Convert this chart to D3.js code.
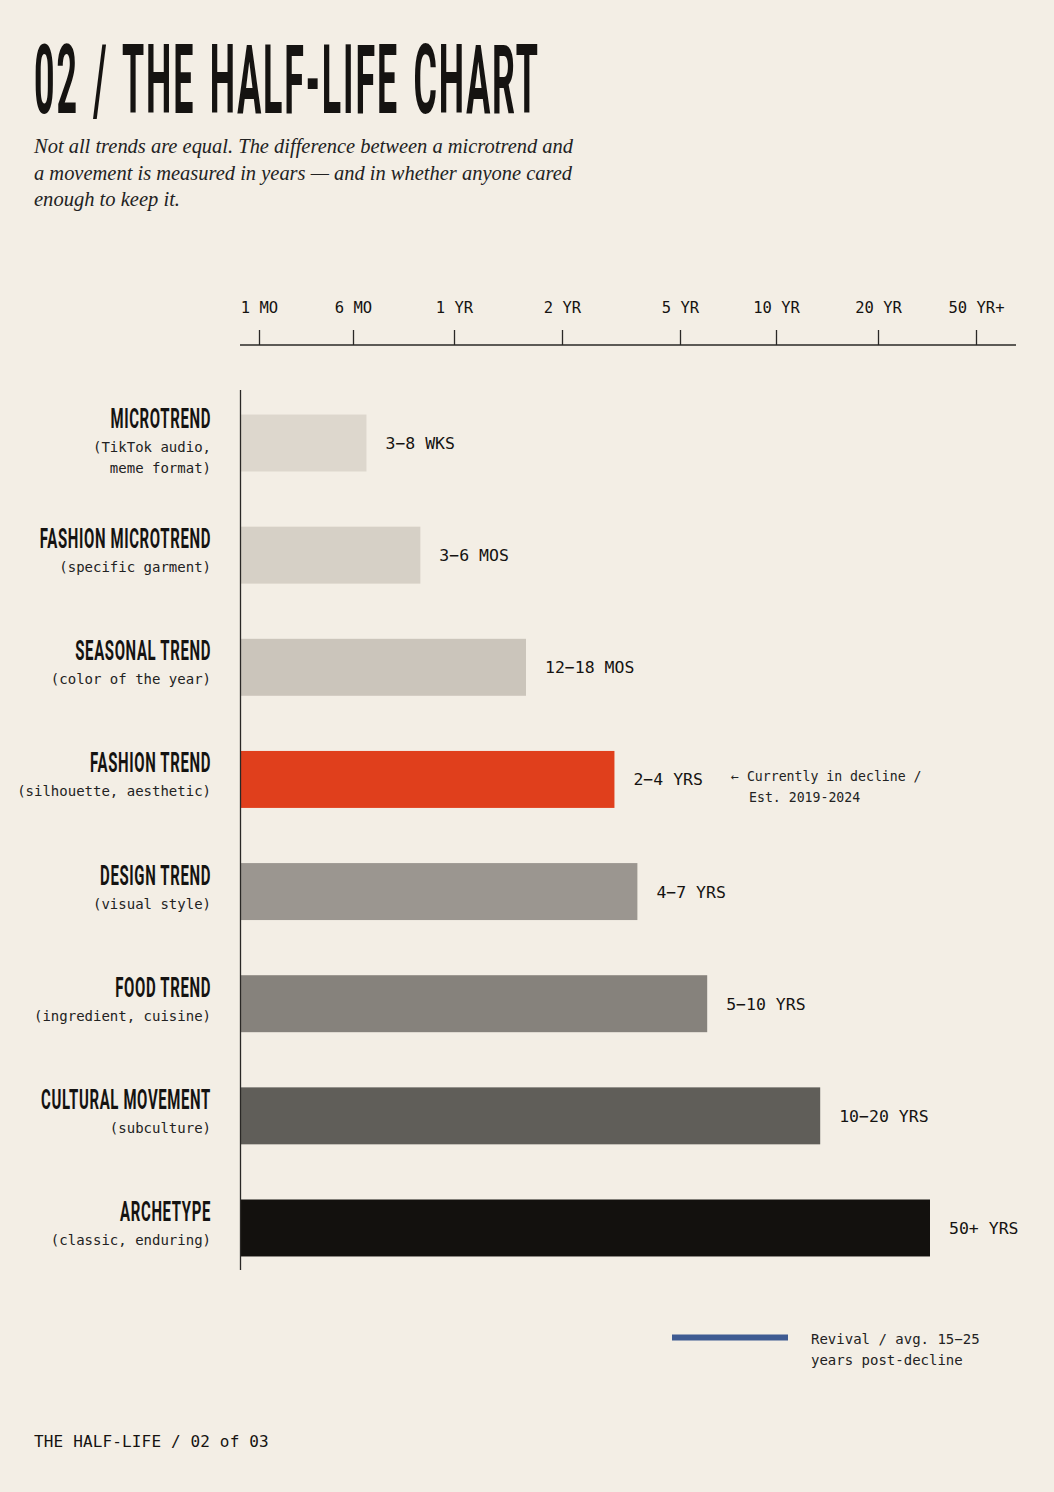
<!DOCTYPE html>
<html>
<head>
<meta charset="utf-8">
<script src="https://cdn.jsdelivr.net/npm/d3@7"></script>
<style>
  html, body { margin: 0; padding: 0; background: #f3eee5; }
  svg { display: block; }
</style>
</head>
<body>
<svg id="chart" width="1054" height="1492"></svg>
<script>
// ---- data ----
const categories = ["MICROTREND", "FASHION MICROTREND", "SEASONAL TREND", "FASHION TREND",
  "DESIGN TREND", "FOOD TREND", "CULTURAL MOVEMENT", "ARCHETYPE"];
const subLabels = [
  ["(TikTok audio,", "meme format)"],
  ["(specific garment)"],
  ["(color of the year)"],
  ["(silhouette, aesthetic)"],
  ["(visual style)"],
  ["(ingredient, cuisine)"],
  ["(subculture)"],
  ["(classic, enduring)"]
];
// bar lengths, in months on the chart's axis
const barValues = [6.8, 10, 20, 40, 47, 77, 172, 431];
const rangeLabels = ["3\u22128 WKS", "3\u22126 MOS", "12\u221218 MOS", "2\u22124 YRS",
  "4\u22127 YRS", "5\u221210 YRS", "10\u221220 YRS", "50+ YRS"];
const tickValues = [1, 6, 12, 24, 60, 120, 240, 600];
const tickLabels = ["1 MO", "6 MO", "1 YR", "2 YR", "5 YR", "10 YR", "20 YR", "50 YR+"];
const annotationLines = ["\u2190 Currently in decline /", "Est. 2019-2024"];
const legendLines = ["Revival / avg. 15\u221225", "years post-decline"];
const subtitleLines = [
  "Not all trends are equal. The difference between a microtrend and",
  "a movement is measured in years \u2014 and in whether anyone cared",
  "enough to keep it."
];

// ---- styles ----
const barColors = ["#ddd7cd", "#d6d0c6", "#cbc5bb", "#e03f1c", "#9b9690", "#86827c", "#605e59", "#13110e"];
const ink = "#151311";
const mono = "'DejaVu Sans Mono', 'Liberation Mono', monospace";
const cond = "Roboto, 'DejaVu Sans', sans-serif";

const svg = d3.select("#chart");
svg.append("rect").attr("width", 1054).attr("height", 1492).attr("fill", "#f3eee5");

// helper: horizontally condense a text to a target width
function condense(sel, x0, y0, targetW) {
  const w = sel.node().getComputedTextLength();
  const k = targetW / w;
  sel.attr("x", 0).attr("y", 0)
    .attr("transform", `translate(${x0},${y0}) scale(${k},1)`);
  return k;
}

// ---- title ----
const title = svg.append("text")
  .attr("font-family", cond).attr("font-weight", 700).attr("font-size", 96)
  .attr("letter-spacing", 5).attr("word-spacing", 10)
  .attr("fill", ink)
  .text("02 / THE HALF-LIFE CHART");
condense(title, 34, 113, 506);

const subW = [539, 538, 146];
subtitleLines.forEach((t, i) => {
  svg.append("text")
    .attr("x", 34).attr("y", 153 + i * 26.5)
    .attr("font-family", "'Liberation Serif', 'DejaVu Serif', serif")
    .attr("font-style", "italic").attr("font-size", 20)
    .attr("fill", "#222")
    .attr("textLength", subW[i]).attr("lengthAdjust", "spacingAndGlyphs")
    .text(t);
});

// ---- scales ----
const x = d3.scaleLinear()
  .domain(tickValues)
  .range([259, 353, 454, 562, 680, 776, 878, 976]);
const xStart = 241;

const y = d3.scaleBand()
  .domain(categories)
  .range([386.5, 1284.5])
  .paddingInner(0.492)
  .paddingOuter(0.25);

// ---- top axis ----
const axisY = 345;
const axisG = svg.append("g").attr("transform", `translate(0,${axisY})`)
  .call(d3.axisTop(x).tickValues(tickValues)
    .tickFormat((d, i) => tickLabels[i]).tickSize(15).tickPadding(17));
axisG.select(".domain").remove();
axisG.selectAll(".tick line").attr("stroke", "#2a2826").attr("stroke-width", 1.3);
axisG.selectAll(".tick text")
  .attr("font-family", mono).attr("font-size", 15.5).attr("fill", ink);
svg.append("line").attr("x1", 240).attr("x2", 1016).attr("y1", axisY).attr("y2", axisY)
  .attr("stroke", "#2a2826").attr("stroke-width", 1.3);

// ---- bars ----
svg.append("g").selectAll("rect").data(categories).join("rect")
  .attr("x", xStart)
  .attr("y", d => y(d))
  .attr("width", (d, i) => x(barValues[i]) - xStart)
  .attr("height", y.bandwidth())
  .attr("fill", (d, i) => barColors[i]);

// vertical baseline
svg.append("line").attr("x1", 240.5).attr("x2", 240.5).attr("y1", 390).attr("y2", 1270)
  .attr("stroke", "#2a2826").attr("stroke-width", 1.3);

// value labels
svg.append("g").selectAll("text").data(categories).join("text")
  .attr("x", (d, i) => x(barValues[i]) + 19)
  .attr("y", d => y(d) + y.bandwidth() / 2 + 6)
  .attr("font-family", mono).attr("font-size", 16.5).attr("fill", ink)
  .text((d, i) => rangeLabels[i]);

// ---- category labels ----
const labG = svg.append("g");
const titleTexts = [];
categories.forEach((c, i) => {
  const cy = y(c) + y.bandwidth() / 2;
  const n = subLabels[i].length;
  const tb = cy - 7 - (n - 1) * 8;
  const t = labG.append("text")
    .attr("text-anchor", "end")
    .attr("font-family", cond).attr("font-weight", 700).attr("font-size", 28)
    .attr("letter-spacing", 1.2)
    .attr("fill", ink)
    .text(c);
  titleTexts.push({ t, tb });
  subLabels[i].forEach((s, j) => {
    labG.append("text")
      .attr("x", 211).attr("y", tb + 24 + 21 * j)
      .attr("text-anchor", "end")
      .attr("font-family", mono).attr("font-size", 14).attr("fill", "#222")
      .text(s);
  });
});
// condense the bold labels with one shared factor
const refW = titleTexts[6].t.node().getComputedTextLength();
const k = 170 / refW;
titleTexts.forEach(({ t, tb }) => {
  t.attr("x", 0).attr("y", 0).attr("transform", `translate(211,${tb}) scale(${k},1)`);
});

// ---- annotation ----
const ann = svg.append("g").attr("font-family", mono).attr("font-size", 13.2).attr("fill", "#222");
ann.append("text").attr("x", 731).attr("y", 781).text(annotationLines[0]);
ann.append("text").attr("x", 749).attr("y", 802).text(annotationLines[1]);

// ---- legend ----
svg.append("line").attr("x1", 672).attr("x2", 788).attr("y1", 1337.5).attr("y2", 1337.5)
  .attr("stroke", "#3e5b92").attr("stroke-width", 6);
const leg = svg.append("g").attr("font-family", mono).attr("font-size", 14).attr("fill", "#222");
legendLines.forEach((t, i) => {
  leg.append("text").attr("x", 811).attr("y", 1344 + 21 * i).text(t);
});

// ---- footer ----
svg.append("text").attr("x", 34).attr("y", 1447)
  .attr("font-family", mono).attr("font-size", 16).attr("letter-spacing", 0.15)
  .attr("fill", ink)
  .text("THE HALF-LIFE / 02 of 03");
</script>
</body>
</html>
